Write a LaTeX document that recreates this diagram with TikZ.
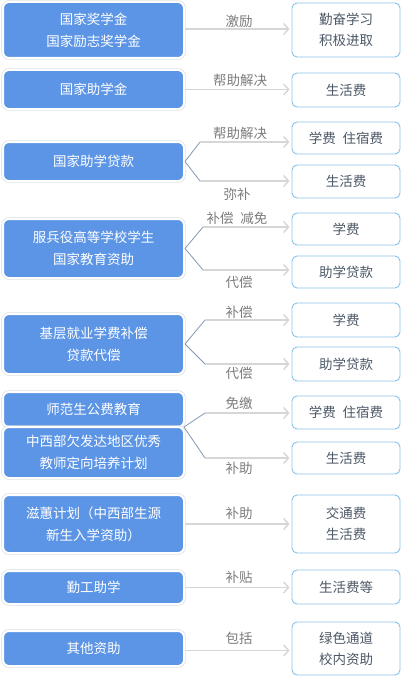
\documentclass[tikz,border=0pt]{standalone}
\usepackage{fontspec}
\setmainfont{Noto Sans CJK SC}
\usetikzlibrary{arrows.meta}
\definecolor{lfill}{HTML}{5C95E6}
\definecolor{lring}{HTML}{DADDE2}
\definecolor{rline}{HTML}{88C2E8}
\definecolor{rtext}{HTML}{4C5866}
\definecolor{ltext}{HTML}{7C7C7C}
\definecolor{hline}{HTML}{D6D6D6}
\definecolor{dline}{HTML}{8298B6}
\tikzset{
  lbox/.style={preaction={draw=lring, line width=3.4pt, rounded corners=6pt},
    fill=lfill, draw=white, line width=2pt, rounded corners=6pt, text=white,
    align=center, minimum width=181pt, inner sep=0pt,
    font=\fontsize{13.5}{22}\selectfont},
  rbox/.style={fill=white, draw=rline, line width=0.9pt, rounded corners=5pt,
    text=rtext, align=center, minimum width=108pt, inner sep=0pt,
    font=\fontsize{13.5}{21}\selectfont},
  lab/.style={text=ltext, inner sep=0pt, font=\fontsize{13.5}{16}\selectfont},
  harrow/.style={draw=hline, line width=1.4pt, shorten >=2pt,
    -{Straight Barb[length=5pt,width=11pt,line width=1.4pt]}},
  diag/.style={draw=dline, line width=0.8pt},
}
\begin{document}
\begin{tikzpicture}[x=1pt,y=-1pt]
\useasboundingbox (0,0) rectangle (403,677);
% row 1
\node[lbox, minimum height=56pt] (L1) at (93.5,30) {国家奖学金\\国家励志奖学金};
\node[rbox, minimum height=54pt] (R1) at (346,30) {勤奋学习\\积极进取};
\draw[harrow] ([yshift=1pt]L1.east) -- ([yshift=1pt]R1.west);
\node[lab] (A1) at (239,21) {激励};
% row 2
\node[lbox, minimum height=39pt] (L2) at (93.5,89.5) {国家助学金};
\node[rbox, minimum height=34pt] (R2) at (346,90) {生活费};
\draw[harrow] (L2.east) -- (L2.east -| R2.west);
\node[lab] (A2) at (240,80) {帮助解决};
% row 3
\node[lbox, minimum height=39pt] (L3) at (93.5,161.5) {国家助学贷款};
\node[rbox, minimum height=32pt] (R3a) at (346,138) {学费\hspace{0.5em}住宿费};
\node[rbox, minimum height=33pt] (R3b) at (346,181.5) {生活费};
\coordinate (B3u) at (200,142);
\coordinate (B3d) at (200,181);
\draw[diag] (L3.east) -- (B3u);
\draw[diag] (L3.east) -- (B3d);
\draw[harrow] (B3u) -- (B3u -| R3a.west);
\draw[harrow] (B3d) -- (B3d -| R3b.west);
\node[lab] (A3a) at (240,133) {帮助解决};
\node[lab] (A3b) at (237,194) {弥补};
% row 4
\node[lbox, minimum height=59pt] (L4) at (93.5,248.5) {服兵役高等学校学生\\国家教育资助};
\node[rbox, minimum height=32pt] (R4a) at (346,229) {学费};
\node[rbox, minimum height=32pt] (R4b) at (346,272) {助学贷款};
\coordinate (B4u) at (203,227);
\coordinate (B4d) at (203,270);
\draw[diag] (L4.east) -- (B4u);
\draw[diag] (L4.east) -- (B4d);
\draw[harrow] (B4u) -- (B4u -| R4a.west);
\draw[harrow] (B4d) -- (B4d -| R4b.west);
\node[lab] (A4a) at (237,218) {补偿\hspace{0.5em}减免};
\node[lab] (A4b) at (239,282) {代偿};
% row 5
\node[lbox, minimum height=60pt] (L5) at (93.5,344) {基层就业学费补偿\\贷款代偿};
\node[rbox, minimum height=34pt] (R5a) at (346,320) {学费};
\node[rbox, minimum height=34pt] (R5b) at (346,364) {助学贷款};
\coordinate (B5u) at (205,320);
\coordinate (B5d) at (205,364);
\draw[diag] (L5.east) -- (B5u);
\draw[diag] (L5.east) -- (B5d);
\draw[harrow] (B5u) -- (B5u -| R5a.west);
\draw[harrow] (B5d) -- (B5d -| R5b.west);
\node[lab] (A5a) at (239,312) {补偿};
\node[lab] (A5b) at (239,373) {代偿};
% row 6
\node[lbox, minimum height=35pt] (L6) at (93.5,409.5) {师范生公费教育};
\node[lbox, minimum height=51pt] (L7) at (93.5,452.5) {中西部欠发达地区优秀\\教师定向培养计划};
\node[rbox, minimum height=33pt] (R6a) at (346,412.5) {学费\hspace{0.5em}住宿费};
\node[rbox, minimum height=32pt] (R6b) at (346,458) {生活费};
\coordinate (B6) at (184,427);
\coordinate (B6u) at (205,413);
\coordinate (B6d) at (205,458);
\draw[diag] (B6) -- (B6u);
\draw[diag] (B6) -- (B6d);
\draw[harrow] (B6u) -- (B6u -| R6a.west);
\draw[harrow] (B6d) -- (B6d -| R6b.west);
\node[lab] (A6a) at (239,403) {免缴};
\node[lab] (A6b) at (239,468) {补助};
% row 8
\node[lbox, minimum height=58pt] (L8) at (93.5,524) {滋蕙计划（中西部生源\\新生入学资助）};
\node[rbox, minimum height=58pt] (R8) at (346,524) {交通费\\生活费};
\draw[harrow] (L8.east) -- (R8.west);
\node[lab] (A8) at (239,513) {补助};
% row 9
\node[lbox, minimum height=33pt] (L9) at (93.5,587.5) {勤工助学};
\node[rbox, minimum height=34pt] (R9) at (346,587) {生活费等};
\draw[harrow] (L9.east) -- (L9.east -| R9.west);
\node[lab] (A9) at (239,577) {补贴};
% row 10
\node[lbox, minimum height=35pt] (L10) at (93.5,648.5) {其他资助};
\node[rbox, minimum height=53pt] (R10) at (346,648.5) {绿色通道\\校内资助};
\draw[harrow] ([yshift=-2pt]L10.east) -- ([yshift=-2pt]R10.west);
\node[lab] (A10) at (239,638) {包括};
\end{tikzpicture}
\end{document}
